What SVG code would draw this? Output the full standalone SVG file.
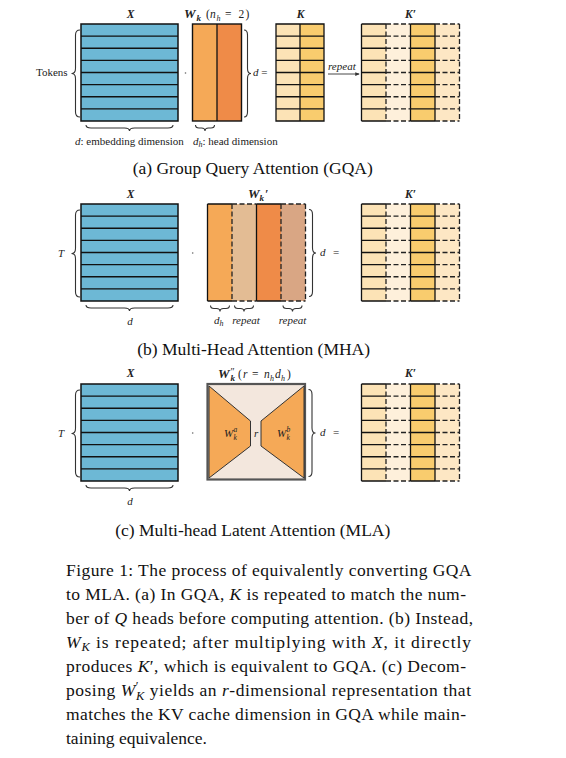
<svg xmlns="http://www.w3.org/2000/svg" xmlns:xlink="http://www.w3.org/1999/xlink" width="566" height="758" viewBox="0 0 566 758">
<style>
text{font-family:"Liberation Serif","DejaVu Serif",serif;fill:#222}
.lbl{font-size:11.5px}
.sm{font-size:11px}
.bi{font-weight:bold;font-style:italic}
.it{font-style:italic}
.brace{fill:none;stroke:#333;stroke-width:1.1}
.grid{fill:none;stroke:#111;stroke-width:1.3}
.dash{fill:none;stroke:#222;stroke-width:1.3;stroke-dasharray:5 2.5}
.cap{font-size:17.5px;fill:#111}
</style>
<defs>
<g id="xmat">
<rect x="0" y="0" width="97" height="97" fill="#6DB8D5" stroke="#111" stroke-width="1.5"/>
<path class="grid" d="M0,12.125H97M0,24.25H97M0,36.375H97M0,48.5H97M0,60.625H97M0,72.75H97M0,84.875H97"/>
</g>
<g id="kp">
<rect x="0" y="0" width="24.5" height="97" fill="#FCE3B6"/>
<rect x="24.5" y="0" width="24.5" height="97" fill="#FEF0DB"/>
<rect x="49" y="0" width="24.5" height="97" fill="#F9CC6E"/>
<rect x="73.5" y="0" width="24.5" height="97" fill="#FDE7C4"/>
<path class="grid" d="M0,0V97M49,0V97M73.5,0V97M0,0H24.5M49,0H73.5M0,12.125H24.5M49,12.125H73.5M0,24.25H24.5M49,24.25H73.5M0,36.375H24.5M49,36.375H73.5M0,48.5H24.5M49,48.5H73.5M0,60.625H24.5M49,60.625H73.5M0,72.75H24.5M49,72.75H73.5M0,84.875H24.5M49,84.875H73.5M0,97H24.5M49,97H73.5"/>
<path class="dash" d="M24.5,0V97M98,0V97M24.5,0H49M73.5,0H98M24.5,12.125H49M73.5,12.125H98M24.5,24.25H49M73.5,24.25H98M24.5,36.375H49M73.5,36.375H98M24.5,48.5H49M73.5,48.5H98M24.5,60.625H49M73.5,60.625H98M24.5,72.75H49M73.5,72.75H98M24.5,84.875H49M73.5,84.875H98M24.5,97H49M73.5,97H98"/>
</g>
<path id="lbrace" class="brace" d="M8.5,0 Q4,0 4,5 L4,38.5 Q4,43.5 0,43.5 Q4,43.5 4,48.5 L4,82 Q4,87 8.5,87"/>
<path id="rbrace" class="brace" d="M0,0 Q3.5,0 3.5,5 L3.5,38.5 Q3.5,43.5 7,43.5 Q3.5,43.5 3.5,48.5 L3.5,82 Q3.5,87 0,87"/>
<path id="bbraceL" class="brace" d="M0,0 Q0,3 5,3 L38.5,3 Q43.5,3 43.5,6 Q43.5,3 48.5,3 L82,3 Q87,3 87,0"/>
<path id="bbraceS" class="brace" d="M0,0 Q0,3 3.5,3 L6,3 Q9.5,3 9.5,6 Q9.5,3 13,3 L15.5,3 Q19,3 19,0"/>
<marker id="arr" viewBox="0 0 6 6" refX="5" refY="3" markerWidth="5" markerHeight="5" orient="auto"><path d="M0,0.5 L6,3 L0,5.5 Z" fill="#333"/></marker>
</defs>

<!-- Panel (a) -->
<g id="a-X">
<text class="lbl bi" x="130.5" y="18" text-anchor="middle">X</text>
<use href="#xmat" transform="translate(81,24)"/>
<text class="sm" x="36" y="76">Tokens</text>
<use href="#lbrace" transform="translate(71.5,30)"/>
<use href="#bbraceL" transform="translate(86,125)"/>
<text class="sm" x="75" y="145"><tspan class="it">d</tspan>: embedding dimension</text>
<circle cx="185.5" cy="73" r="0.8" fill="#666"/>
</g>
<g id="a-Wk">
<text class="lbl" y="18"><tspan x="184" class="bi" font-size="13">W</tspan><tspan x="196.5" dy="2.5" class="bi" font-size="9">k</tspan><tspan x="206" dy="-2.5">(</tspan><tspan x="210" class="it">n</tspan><tspan x="216.5" dy="2.5" class="it" font-size="8">h</tspan><tspan x="225" dy="-2.5">=</tspan><tspan x="238.5">2</tspan><tspan x="245.5">)</tspan></text>
<rect x="192.5" y="24" width="24.5" height="97" fill="#F5A957"/>
<rect x="217" y="24" width="24.5" height="97" fill="#EF8B48"/>
<rect x="192.5" y="24" width="49" height="97" fill="none" stroke="#111" stroke-width="1.4"/>
<path class="grid" d="M217,24V121"/>
<use href="#rbrace" transform="translate(244,30)"/>
<text class="sm" x="253" y="76"><tspan class="it">d</tspan> =</text>
<use href="#bbraceS" transform="translate(195.5,125)"/>
<text class="sm" x="193" y="145"><tspan class="it">d</tspan><tspan class="it" font-size="8" dy="2">h</tspan><tspan dy="-2">: head dimension</tspan></text>
</g>
<g id="a-K">
<text class="lbl bi" x="300.5" y="18" text-anchor="middle">K</text>
<rect x="276" y="24" width="24" height="97" fill="#FCE3B6"/>
<rect x="300" y="24" width="24" height="97" fill="#F9CC6E"/>
<path class="grid" d="M276,24H324V121H276ZM300,24V121M276,36.125H324M276,48.25H324M276,60.375H324M276,72.5H324M276,84.625H324M276,96.75H324M276,108.875H324"/>
</g>
<g id="a-Kp">
<text class="lbl bi" x="410.5" y="18" text-anchor="middle">K′</text>
<use href="#kp" transform="translate(361.5,24)"/>
</g>
<g id="connectors">
<text class="sm it" x="328" y="70" font-size="11.5">repeat</text>
<path d="M328,74 H359" fill="none" stroke="#333" stroke-width="0.9" marker-end="url(#arr)"/>
</g>
<text class="cap" x="252.7" y="174" text-anchor="middle">(a) Group Query Attention (GQA)</text>

<!-- Panel (b) -->
<g id="b-X">
<text class="lbl bi" x="130.5" y="198" text-anchor="middle">X</text>
<use href="#xmat" transform="translate(81,204)"/>
<use href="#lbrace" transform="translate(71.5,210)"/>
<text class="sm it" x="58" y="257">T</text>
<use href="#bbraceL" transform="translate(86,305)"/>
<text class="sm it" x="130" y="325" text-anchor="middle">d</text>
<circle cx="192.7" cy="253" r="0.8" fill="#666"/>
</g>
<g id="b-Wk">
<text class="lbl" y="198"><tspan x="248" class="bi" font-size="13">W</tspan><tspan x="259.5" dy="2.5" class="bi" font-size="9">k</tspan><tspan x="265" dy="-2.5" class="bi">′</tspan></text>
<rect x="207.5" y="204" width="24.5" height="97" fill="#F5A957"/>
<rect x="232" y="204" width="24.5" height="97" fill="#E3BC94"/>
<rect x="256.5" y="204" width="24.5" height="97" fill="#EF8B48"/>
<rect x="281" y="204" width="24.5" height="97" fill="#D9A684"/>
<path class="grid" d="M207.5,204V301M256.5,204V301M207.5,204H232M207.5,301H232M256.5,204H281M256.5,301H281"/>
<path class="dash" d="M232,204V301M281,204V301M305.5,204V301M232,204H256.5M232,301H256.5M281,204H305.5M281,301H305.5" stroke="#3a2410"/>
<use href="#rbrace" transform="translate(309,209.5)"/>
<text class="sm" x="320" y="256"><tspan class="it">d</tspan><tspan x="333">=</tspan></text>
<use href="#bbraceS" transform="translate(210.5,305.5)"/>
<use href="#bbraceS" transform="translate(234.5,305.5)"/>
<use href="#bbraceS" transform="translate(283,305.5)"/>
<text class="sm it" x="214" y="324">d<tspan font-size="8" dy="2">h</tspan></text>
<text class="sm it" x="246" y="324" text-anchor="middle">repeat</text>
<text class="sm it" x="292.5" y="324" text-anchor="middle">repeat</text>
</g>
<g id="b-Kp">
<text class="lbl bi" x="410.5" y="198" text-anchor="middle">K′</text>
<use href="#kp" transform="translate(361.5,204)"/>
</g>
<text class="cap" x="253.7" y="355" text-anchor="middle">(b) Multi-Head Attention (MHA)</text>

<!-- Panel (c) -->
<g id="c-X">
<text class="lbl bi" x="130.5" y="377" text-anchor="middle">X</text>
<use href="#xmat" transform="translate(81,384)"/>
<use href="#lbrace" transform="translate(71.5,390)"/>
<text class="sm it" x="58" y="437">T</text>
<use href="#bbraceL" transform="translate(86,485)"/>
<text class="sm it" x="130" y="505" text-anchor="middle">d</text>
<circle cx="192.7" cy="433" r="0.8" fill="#666"/>
</g>
<g id="c-W">
<text class="lbl" y="378"><tspan x="218" class="bi" font-size="13">W</tspan><tspan x="230.5" dy="-3.5" font-size="10">″</tspan><tspan x="230.5" dy="6.5" class="bi" font-size="9">k</tspan><tspan x="238" dy="-3">(</tspan><tspan x="243" class="it">r</tspan><tspan x="252">=</tspan><tspan x="264" class="it">n</tspan><tspan x="270" dy="2.5" class="it" font-size="8">h</tspan><tspan x="275" dy="-2.5" class="it">d</tspan><tspan x="281" dy="2.5" class="it" font-size="8">h</tspan><tspan x="287" dy="-2.5">)</tspan></text>
<rect x="207.5" y="384" width="97.5" height="95.5" fill="#F3E7DD" stroke="#555" stroke-width="2.2"/>
<polygon points="209,386 250.5,421 250.5,446 209,478" fill="#F5A957" stroke="#333" stroke-width="1"/>
<polygon points="304,386 261,421 261,446 304,478" fill="#F5A957" stroke="#333" stroke-width="1"/>
<text class="sm it" x="224" y="437">W</text>
<text class="it" x="233.5" y="432" font-size="7.5">a</text>
<text class="it" x="233.5" y="440" font-size="7.5">k</text>
<text class="sm it" x="254" y="437">r</text>
<text class="sm it" x="277" y="437">W</text>
<text class="it" x="286.5" y="432" font-size="7.5">b</text>
<text class="it" x="286.5" y="440" font-size="7.5">k</text>
<use href="#rbrace" transform="translate(308.5,389.5)"/>
<text class="sm" x="320" y="436"><tspan class="it">d</tspan><tspan x="333">=</tspan></text>
</g>
<g id="c-Kp">
<text class="lbl bi" x="410.5" y="377" text-anchor="middle">K′</text>
<use href="#kp" transform="translate(361.5,384)"/>
</g>
<text class="cap" x="252.8" y="536" text-anchor="middle">(c) Multi-head Latent Attention (MLA)</text>

<!-- Figure caption -->
<g id="caption" class="cap">
<text class="cap" x="66" y="576" textLength="405.5" lengthAdjust="spacing">Figure 1: The process of equivalently converting GQA</text>
<text class="cap" x="66" y="600" textLength="400" lengthAdjust="spacing">to MLA. (a) In GQA, <tspan class="it">K</tspan> is repeated to match the num-</text>
<text class="cap" x="66" y="624" textLength="407" lengthAdjust="spacing">ber of <tspan class="it">Q</tspan> heads before computing attention. (b) Instead,</text>
<text class="cap" x="66" y="648" textLength="405" lengthAdjust="spacing"><tspan class="it">W</tspan><tspan class="it" font-size="12.5" dy="3">K</tspan><tspan dy="-3"> is repeated; after multiplying with </tspan><tspan class="it">X</tspan>, it directly</text>
<text class="cap" x="66" y="672" textLength="400" lengthAdjust="spacing">produces <tspan class="it">K</tspan>′, which is equivalent to GQA. (c) Decom-</text>
<text class="cap" x="66" y="696" textLength="405" lengthAdjust="spacing">posing <tspan class="it">W</tspan><tspan font-size="12.5" dy="-6">′</tspan><tspan class="it" font-size="12.5" dx="-3" dy="10">K</tspan><tspan dy="-4"> yields an </tspan><tspan class="it">r</tspan>-dimensional representation that</text>
<text class="cap" x="66" y="720" textLength="400" lengthAdjust="spacing">matches the KV cache dimension in GQA while main-</text>
<text class="cap" x="66" y="744">taining equivalence.</text>
</g>
</svg>
